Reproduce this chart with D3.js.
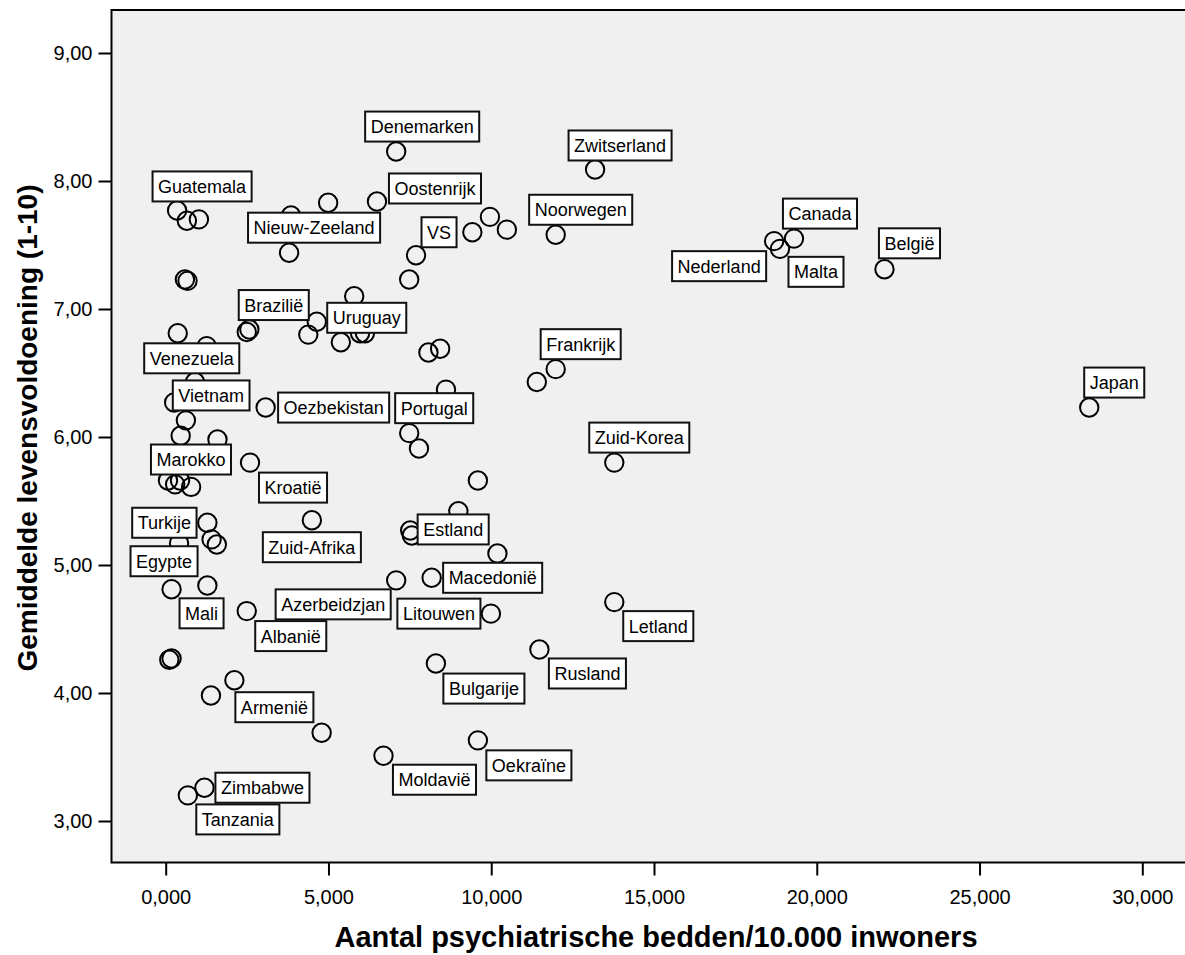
<!DOCTYPE html>
<html>
<head>
<meta charset="utf-8">
<script src="https://cdn.jsdelivr.net/npm/d3@7"></script>
<style>
  body { margin: 0; background: #fff; }
  text { font-family: "Liberation Sans", Arial, sans-serif; fill: #000; }
</style>
</head>
<body>
<svg id="chart"></svg>
<script>
// data: land, psychiatrische bedden per 10.000 inwoners, gemiddelde levensvoldoening
const landen = [
  "Denemarken", "Zwitserland", "Guatemala", null, null, null, null, "Oostenrijk",
  "Nieuw-Zeeland", null, null, null, "Noorwegen", "VS", null, null, null,
  "Canada", "Nederland", "Malta", "België", null, "Brazilië", null, "Uruguay",
  null, null, null, null, "Venezuela", null, null, null, null, "Vietnam", null,
  null, null, "Oezbekistan", null, "Portugal", null, "Frankrijk", null, "Japan",
  "Zuid-Korea", "Kroatië", "Marokko", null, null, null, null, null, "Estland",
  null, null, "Turkije", null, null, "Zuid-Afrika", "Egypte", "Mali", null,
  "Albanië", "Azerbeidzjan", "Macedonië", "Litouwen", "Letland", "Rusland",
  "Bulgarije", null, null, null, "Armenië", null, "Moldavië", "Oekraïne",
  "Zimbabwe", "Tanzania"
];
const bedden = [
  7.08, 13.19, 0.35, 0.65, 1.02, 3.85, 4.99, 6.49,
  3.79, 9.96, 10.48, 9.42, 11.98, 7.69, 7.48, 0.59, 0.67,
  19.30, 18.69, 18.87, 22.08, 5.79, 2.49, 2.57, 4.64,
  4.38, 5.38, 5.97, 6.12, 0.37, 1.26, 8.07, 8.43, 0.90, 0.26, 0.62,
  0.46, 1.59, 3.07, 8.61, 7.48, 7.78, 11.98, 11.40, 28.37,
  13.78, 2.59, 0.07, 0.29, 0.44, 0.78, 9.59, 8.99, 7.51,
  7.56, 10.19, 1.28, 1.41, 1.57, 4.49, 0.41, 0.18, 1.28,
  2.49, 7.08, 8.17, 9.99, 13.78, 11.48,
  8.30, 0.18, 0.11, 1.39, 2.11, 4.79, 6.69, 9.59,
  1.19, 0.68
];
const tevredenheid = [
  8.23, 8.09, 7.77, 7.69, 7.70, 7.73, 7.83, 7.84,
  7.44, 7.72, 7.62, 7.60, 7.58, 7.42, 7.23, 7.23, 7.22,
  7.55, 7.53, 7.47, 7.31, 7.10, 6.82, 6.84, 6.90,
  6.80, 6.74, 6.81, 6.81, 6.81, 6.71, 6.66, 6.69, 6.43, 6.27, 6.13,
  6.01, 5.98, 6.23, 6.37, 6.03, 5.91, 6.53, 6.43, 6.23,
  5.80, 5.80, 5.66, 5.63, 5.66, 5.61, 5.66, 5.42, 5.27,
  5.23, 5.09, 5.33, 5.20, 5.16, 5.35, 5.17, 4.81, 4.84,
  4.64, 4.88, 4.90, 4.62, 4.71, 4.34,
  4.23, 4.27, 4.26, 3.98, 4.10, 3.69, 3.51, 3.63,
  3.26, 3.20
];
const xTicks = [0, 5, 10, 15, 20, 25, 30];
const yTicks = [3, 4, 5, 6, 7, 8, 9];

// where each label box sits relative to its point (centre offset, px)
const labelOffsets = {
  "Guatemala": [25, -24], "Denemarken": [26, -25], "Zwitserland": [25, -24],
  "Oostenrijk": [58, -13], "Nieuw-Zeeland": [25, -25], "VS": [23, -23],
  "Noorwegen": [25, -25], "Canada": [26, -25], "Nederland": [-55, 25],
  "Malta": [36, 23], "België": [25, -26], "Japan": [25, -25],
  "Brazilië": [27, -27], "Uruguay": [50, -4], "Venezuela": [14, 25],
  "Vietnam": [37, -7], "Oezbekistan": [68, 0], "Portugal": [25, -25],
  "Frankrijk": [25, -25], "Zuid-Korea": [25, -25], "Marokko": [23, -21],
  "Kroatië": [43, 25], "Turkije": [-43, 0], "Zuid-Afrika": [0, 27],
  "Egypte": [-15, 18], "Mali": [30, 24], "Estland": [43, -1],
  "Macedonië": [61, 0], "Azerbeidzjan": [-63, 24], "Albanië": [44, 25],
  "Litouwen": [-52, 0], "Letland": [44, 24], "Rusland": [48, 24],
  "Bulgarije": [48, 25], "Armenië": [40, 27], "Oekraïne": [51, 25],
  "Moldavië": [51, 24], "Zimbabwe": [58, 0], "Tanzania": [50, 24]
};

const width = 1185, height = 955;
const plot = { left: 111.5, top: 10, right: 1190, bottom: 862.5 };

const nl = d3.formatLocale({ decimal: ",", thousands: ".", grouping: [3], currency: ["€", ""] });
const fmtX = nl.format(".3f");
const fmtY = nl.format(".2f");

const x = d3.scaleLinear().domain([0, 30]).range([165.7, 1142.3]);
const y = d3.scaleLinear().domain([3, 9]).range([821, 53]);

const svg = d3.select("#chart")
    .attr("width", width)
    .attr("height", height);

// plot area
svg.append("rect")
    .attr("x", plot.left)
    .attr("y", plot.top)
    .attr("width", plot.right - plot.left)
    .attr("height", plot.bottom - plot.top)
    .attr("fill", "#f0f0f0")
    .attr("stroke", "#000")
    .attr("stroke-width", 2);

// axes
const xAxis = svg.append("g")
    .attr("transform", `translate(0,${plot.bottom})`)
    .call(d3.axisBottom(x).tickValues(xTicks).tickFormat(fmtX).tickSize(13).tickPadding(14));
const yAxis = svg.append("g")
    .attr("transform", `translate(${plot.left},0)`)
    .call(d3.axisLeft(y).tickValues(yTicks).tickFormat(fmtY).tickSize(13).tickPadding(6));

[xAxis, yAxis].forEach(g => {
  g.select(".domain").remove();
  g.selectAll(".tick line").attr("stroke", "#000").attr("stroke-width", 2);
  g.selectAll(".tick text")
      .style("font-family", '"Liberation Sans", Arial, sans-serif')
      .style("font-size", "20px")
      .attr("fill", "#000");
});

// axis titles
svg.append("text")
    .attr("x", 656)
    .attr("y", 947)
    .attr("text-anchor", "middle")
    .style("font-size", "29px")
    .style("font-weight", "bold")
    .text("Aantal psychiatrische bedden/10.000 inwoners");

svg.append("text")
    .attr("transform", "translate(37,428) rotate(-90)")
    .attr("text-anchor", "middle")
    .style("font-size", "28px")
    .style("font-weight", "bold")
    .text("Gemiddelde levensvoldoening (1-10)");

const punten = landen.map((land, i) => ({ land, bedden: bedden[i], score: tevredenheid[i] }));

// points
svg.append("g")
  .selectAll("circle")
  .data(punten)
  .enter().append("circle")
    .attr("cx", d => x(d.bedden))
    .attr("cy", d => y(d.score))
    .attr("r", 9.2)
    .attr("fill", "none")
    .attr("stroke", "#000")
    .attr("stroke-width", 2);

// labels
const labels = svg.append("g")
  .selectAll("g")
  .data(punten.filter(d => d.land))
  .enter().append("g")
    .attr("transform", d => {
      const off = labelOffsets[d.land] || [25, -25];
      return `translate(${x(d.bedden) + off[0]},${y(d.score) + off[1]})`;
    });

labels.append("rect")
    .attr("fill", "#fff")
    .attr("stroke", "#111")
    .attr("stroke-width", 2);

labels.append("text")
    .attr("text-anchor", "middle")
    .attr("dy", "0.36em")
    .style("font-size", "18px")
    .text(d => d.land);

labels.each(function() {
  const g = d3.select(this);
  const w = g.select("text").node().getComputedTextLength() + 11;
  g.select("rect")
      .attr("x", -w / 2)
      .attr("y", -15)
      .attr("width", w)
      .attr("height", 30);
});
</script>
</body>
</html>
